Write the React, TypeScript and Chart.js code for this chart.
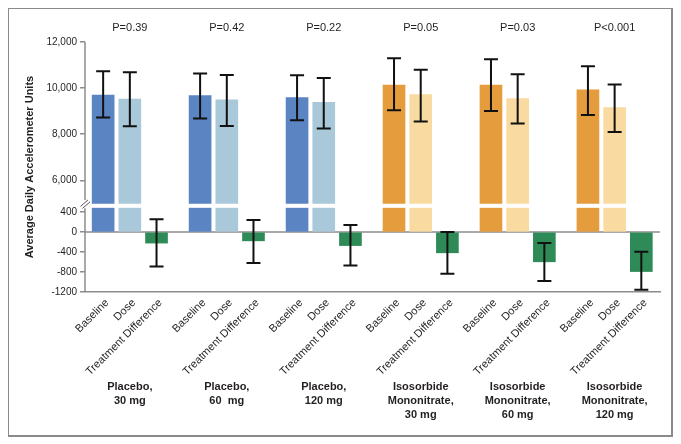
import React, { useEffect, useRef } from 'react';
import { Chart, registerables } from 'chart.js';

Chart.register(...registerables);

// ---------- data ----------
const groupLines = [
  ['Placebo,', '30 mg'],
  ['Placebo,', '60  mg'],
  ['Placebo,', '120 mg'],
  ['Isosorbide', 'Mononitrate,', '30 mg'],
  ['Isosorbide', 'Mononitrate,', '60 mg'],
  ['Isosorbide', 'Mononitrate,', '120 mg'],
];
const barLabels = ['Baseline', 'Dose', 'Treatment Difference'];
const pValues = ['P=0.39', 'P=0.42', 'P=0.22', 'P=0.05', 'P=0.03', 'P<0.001'];

const baseline = [9700, 9680, 9590, 10130, 10130, 9920];
const baselineLow = [8730, 8680, 8610, 9040, 9010, 8830];
const baselineHigh = [10730, 10630, 10560, 11290, 11250, 10950];

const dose = [9520, 9490, 9380, 9720, 9550, 9160];
const doseLow = [8340, 8360, 8250, 8550, 8470, 8100];
const doseHigh = [10690, 10570, 10440, 10800, 10600, 10160];

const diff = [-220, -175, -270, -415, -595, -790];
const diffLow = [-690, -620, -670, -835, -980, -1155];
const diffHigh = [260, 245, 140, 0, -220, -395];

const upperTicks = [6000, 8000, 10000, 12000];
const lowerTicks = [-1200, -800, -400, 0, 400];

// ---------- layout / style ----------
const STEP = 3.633;
const BREAK_FLOOR = 5000;
const LOWER_CEIL = 480;
const AXIS = '#8c8c8c';
const INK = '#231f20';
const FONT = '"Liberation Sans", Arial, sans-serif';
const C = {
  placeboBase: '#5b84c3',
  placeboDose: '#a9c8d9',
  ismnBase: '#e49c3c',
  ismnDose: '#f9dba1',
  diff: '#2e8a56',
};
const xPos = (g: number, b: number) => g * STEP + b;

export default function App() {
  const ref = useRef<HTMLCanvasElement>(null);

  useEffect(() => {
    const n = baseline.length;
    const groups = Array.from({ length: n }, (_, i) => i);
    const upperData: any[] = [];
    const lowerData: any[] = [];
    const bdColors: string[] = [];
    const errs: { x: number; lo: number; hi: number; axis: string }[] = [];

    groups.forEach((g) => {
      const ismn = g >= 3;
      [
        [baseline, baselineLow, baselineHigh],
        [dose, doseLow, doseHigh],
      ].forEach(([vals, lo, hi], b) => {
        upperData.push({ x: xPos(g, b), y: [BREAK_FLOOR, vals[g]] });
        lowerData.push({ x: xPos(g, b), y: Math.min(vals[g], LOWER_CEIL) });
        bdColors.push(
          b === 0 ? (ismn ? C.ismnBase : C.placeboBase) : ismn ? C.ismnDose : C.placeboDose
        );
        errs.push({ x: xPos(g, b), lo: lo[g], hi: hi[g], axis: 'yHigh' });
      });
      errs.push({ x: xPos(g, 2), lo: diffLow[g], hi: diffHigh[g], axis: 'yLow' });
    });
    const diffData = groups.map((g) => ({ x: xPos(g, 2), y: diff[g] }));
    const tickPositions = groups.flatMap((g) => [0, 1, 2].map((b) => xPos(g, b)));

    const decor = {
      id: 'decor',
      beforeDatasetsDraw(chart: any) {
        const { ctx } = chart;
        const xs = chart.scales.x;
        const yl = chart.scales.yLow;
        const yh = chart.scales.yHigh;
        const ax = xs.left;
        ctx.save();
        ctx.strokeStyle = AXIS;
        ctx.lineWidth = 1.5;
        const seg = (x1: number, y1: number, x2: number, y2: number) => {
          ctx.beginPath();
          ctx.moveTo(x1, y1);
          ctx.lineTo(x2, y2);
          ctx.stroke();
        };
        const y0 = yl.getPixelForValue(0);
        seg(ax, y0, xs.right, y0);
        seg(ax, yh.top, ax, yh.bottom - 6);
        seg(ax, yl.getPixelForValue(LOWER_CEIL), ax, yl.bottom);
        ctx.lineWidth = 1;
        ctx.strokeStyle = '#555';
        const by = yh.bottom;
        seg(ax - 4.5, by + 0.5, ax + 3, by - 6);
        seg(ax - 2.5, by + 2.5, ax + 5, by - 4);
        ctx.restore();
      },
      afterDatasetsDraw(chart: any) {
        const { ctx } = chart;
        const xs = chart.scales.x;
        ctx.save();
        ctx.strokeStyle = '#111';
        ctx.lineWidth = 2;
        errs.forEach((e) => {
          const ys = chart.scales[e.axis];
          const px = xs.getPixelForValue(e.x);
          const pt = ys.getPixelForValue(e.hi);
          const pb = ys.getPixelForValue(e.lo);
          ctx.beginPath();
          ctx.moveTo(px, pt);
          ctx.lineTo(px, pb);
          ctx.moveTo(px - 7, pt);
          ctx.lineTo(px + 7, pt);
          ctx.moveTo(px - 7, pb);
          ctx.lineTo(px + 7, pb);
          ctx.stroke();
        });
        ctx.restore();
      },
      afterDraw(chart: any) {
        const { ctx, chartArea } = chart;
        const xs = chart.scales.x;
        ctx.save();
        ctx.fillStyle = INK;
        ctx.textAlign = 'center';
        ctx.textBaseline = 'middle';
        groups.forEach((g) => {
          const cx = xs.getPixelForValue(xPos(g, 1));
          ctx.font = `11px ${FONT}`;
          ctx.fillText(pValues[g], cx, chartArea.top - 14);
          ctx.font = `bold 11px ${FONT}`;
          groupLines[g].forEach((t, i) => {
            ctx.fillText(t, cx, chartArea.bottom + 95 + i * 14);
          });
        });
        // rotated category labels at 45 degrees
        ctx.font = `11px ${FONT}`;
        ctx.textAlign = 'right';
        tickPositions.forEach((v, i) => {
          const px = xs.getPixelForValue(v);
          ctx.save();
          ctx.translate(px + 4, xs.top + 9);
          ctx.rotate(-Math.PI / 4);
          ctx.fillText(barLabels[i % 3], 0, 0);
          ctx.restore();
        });
        ctx.textAlign = 'center';
        ctx.translate(20.5, (chartArea.top + chartArea.bottom) / 2);
        ctx.rotate(-Math.PI / 2);
        ctx.font = `bold 11px ${FONT}`;
        ctx.fillText('Average Daily Accelerometer Units', 0, 0);
        ctx.restore();
      },
    };

    const yCommon = {
      type: 'linear',
      position: 'left',
      stack: 'yaxis',
      offset: false,
      border: { display: false },
      grid: {
        display: true,
        drawOnChartArea: false,
        drawTicks: true,
        tickLength: 5,
        color: AXIS,
        lineWidth: 1.5,
      },
      afterFit: (s: any) => {
        s.width = 76;
      },
    };

    const chart = new Chart(ref.current as HTMLCanvasElement, {
      type: 'bar',
      data: {
        datasets: [
          {
            data: upperData,
            backgroundColor: bdColors,
            xAxisID: 'x',
            yAxisID: 'yHigh',
            grouped: false,
            barThickness: 22,
            borderWidth: 0,
          },
          {
            data: lowerData,
            backgroundColor: bdColors,
            xAxisID: 'x',
            yAxisID: 'yLow',
            grouped: false,
            barThickness: 22,
            borderWidth: 0,
          },
          {
            data: diffData,
            backgroundColor: C.diff,
            xAxisID: 'x',
            yAxisID: 'yLow',
            grouped: false,
            barThickness: 22,
            borderWidth: 0,
          },
        ] as any,
      },
      options: {
        animation: false,
        responsive: false,
        events: [],
        layout: { padding: { top: 33, right: 11, left: 0, bottom: 0 } },
        plugins: { legend: { display: false }, tooltip: { enabled: false } },
        scales: {
          x: {
            type: 'linear',
            offset: false,
            min: -0.68,
            max: xPos(n - 1, 2) + 0.7,
            grid: { display: false },
            border: { display: true, color: AXIS, width: 1.5 },
            afterBuildTicks: (s: any) => {
              s.ticks = tickPositions.map((v) => ({ value: v }));
            },
            ticks: { display: false },
            afterFit: (s: any) => {
              s.height = 143;
            },
          },
          yLow: {
            ...yCommon,
            weight: 1,
            stackWeight: 86.25,
            min: -1200,
            max: 525,
            afterBuildTicks: (s: any) => {
              s.ticks = lowerTicks.map((v) => ({ value: v }));
            },
            ticks: {
              padding: 3,
              color: INK,
              font: { family: FONT, size: 10 },
              callback: (v: any) => String(v),
            },
          },
          yHigh: {
            ...yCommon,
            weight: 2,
            stackWeight: 164.2,
            min: 4890,
            max: 12000,
            afterBuildTicks: (s: any) => {
              s.ticks = upperTicks.map((v) => ({ value: v }));
            },
            ticks: {
              padding: 3,
              color: INK,
              font: { family: FONT, size: 10 },
              callback: (v: any) => Number(v).toLocaleString('en-US'),
            },
          },
        } as any,
      },
      plugins: [decor],
    });
    return () => chart.destroy();
  }, []);

  return (
    <div
      style={{
        width: 666,
        height: 430,
        marginLeft: -1,
        marginTop: -1,
        border: '2px solid #8a8a8a',
        boxSizing: 'border-box',
        background: '#fff',
      }}
    >
      <canvas ref={ref} width={662} height={426} style={{ display: 'block' }} />
    </div>
  );
}
